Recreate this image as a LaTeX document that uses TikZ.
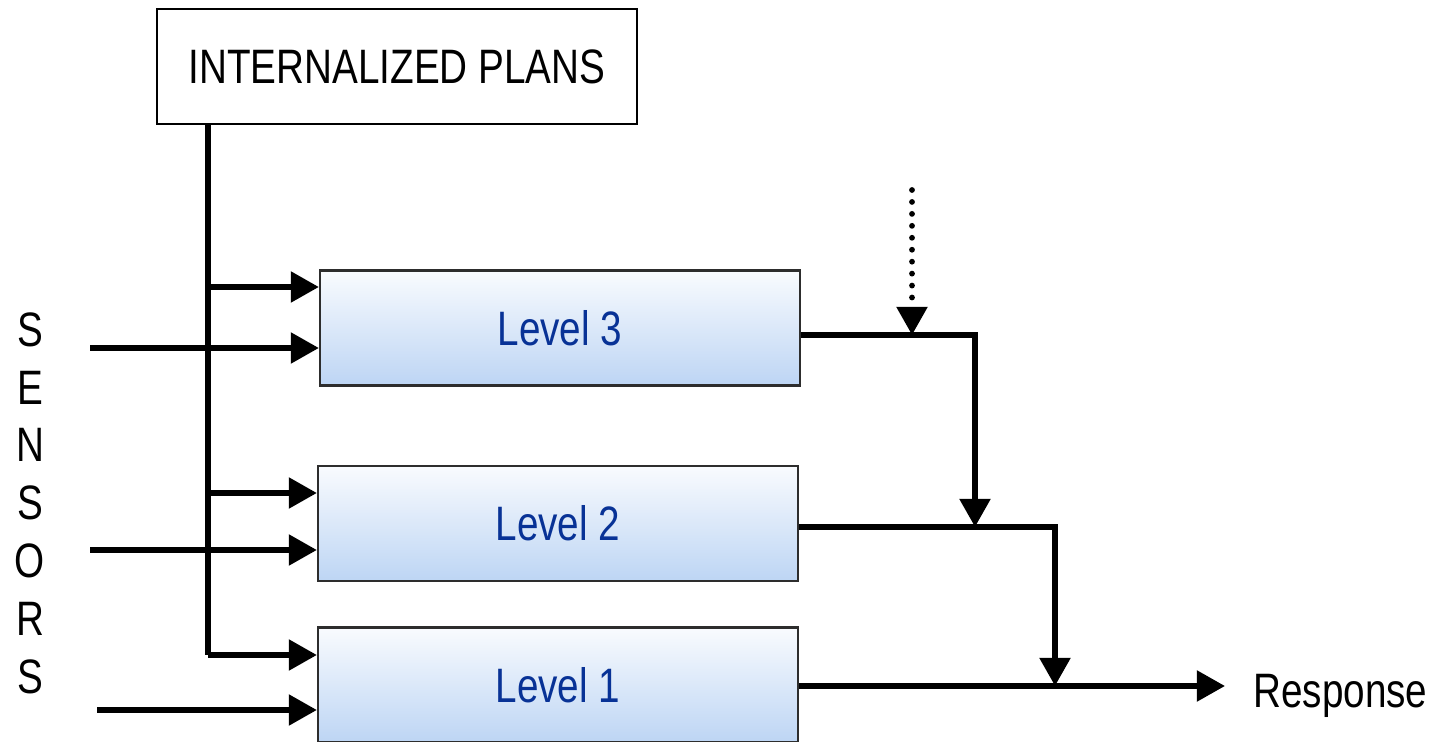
\documentclass[tikz,border=0pt]{standalone}
\usepackage{fontspec}
\setmainfont{Liberation Sans}
\newfontfamily\narrowsans[FakeStretch=0.8]{Liberation Sans}
\usetikzlibrary{arrows.meta}
\definecolor{lvltext}{RGB}{8,50,150}
\definecolor{lvltop}{RGB}{249,251,254}
\definecolor{lvlbot}{RGB}{189,213,244}
\definecolor{lvledge}{RGB}{45,45,45}
\begin{document}
\begin{tikzpicture}[x=0.02cm,y=-0.02cm,
  lbl/.style={font=\narrowsans\fontsize{27.5}{33}\selectfont},
  planbox/.style={draw=black,line width=0.8pt,fill=white,minimum width=9.6cm,
    minimum height=2.3cm,inner sep=0pt,lbl},
  levelbox/.style={draw=lvledge,line width=1.3pt,top color=lvltop,bottom color=lvlbot,
    minimum width=9.6cm,minimum height=2.3cm,inner sep=0pt,lbl,text=lvltext},
  wire/.style={line width=3.3pt,line join=miter},
  flow/.style={wire,-{Triangle[length=16pt,width=17pt]}},
  dotwire/.style={line width=3.3pt,line cap=round,dash pattern=on 0pt off 6.8pt,
    -{Triangle[length=16pt,width=17pt]}}]
  \useasboundingbox (0,0) rectangle (1442,742);

  % blocks
  \node[planbox] (plans) at (397,66.5) {INTERNALIZED PLANS};
  \node[levelbox] (L3) at (560,328) {Level 3};
  \node[levelbox] (L2) at (558,523.5) {Level 2};
  \node[levelbox] (L1) at (558,685) {Level 1};

  % labels
  \node[lbl,align=center,font=\narrowsans\fontsize{27.5}{32.9}\selectfont] (sensors)
    at (30,503) {S\\E\\N\\S\\O\\R\\S};
  \node[lbl,anchor=base west,inner sep=0pt] (resp) at (1253,707) {Response};

  % plan trunk and branches into each level
  \coordinate (top) at (208,124);
  \coordinate (b3) at (208,287);
  \coordinate (b2) at (208,493);
  \coordinate (b1) at (208,655);
  \draw[wire] (top) -- (b1);
  \draw[flow] (b3) -- (b3 -| L3.west);
  \draw[flow] (b2) -- (b2 -| L2.west);
  \draw[flow] (b1) -- (b1 -| L1.west);

  % sensor inputs
  \coordinate (s3) at (90,348);
  \coordinate (s2) at (90,550);
  \coordinate (s1) at (97,710);
  \draw[flow] (s3) -- (s3 -| L3.west);
  \draw[flow] (s2) -- (s2 -| L2.west);
  \draw[flow] (s1) -- (s1 -| L1.west);

  % outputs merging towards the response
  \coordinate (j3) at (975,335);
  \coordinate (j2) at (1055,527);
  \coordinate (j1) at (1225,686);
  \draw[flow] (j3 -| L3.east) -- (j3) -- (j3 |- j2);
  \draw[flow] (j2 -| L2.east) -- (j2) -- (j2 |- j1);
  \draw[flow] (j1 -| L1.east) -- (j1);

  % external input onto the level 3 output
  \coordinate (ext) at (912,190);
  \draw[dotwire] (ext) -- (ext |- j3);
\end{tikzpicture}
\end{document}
